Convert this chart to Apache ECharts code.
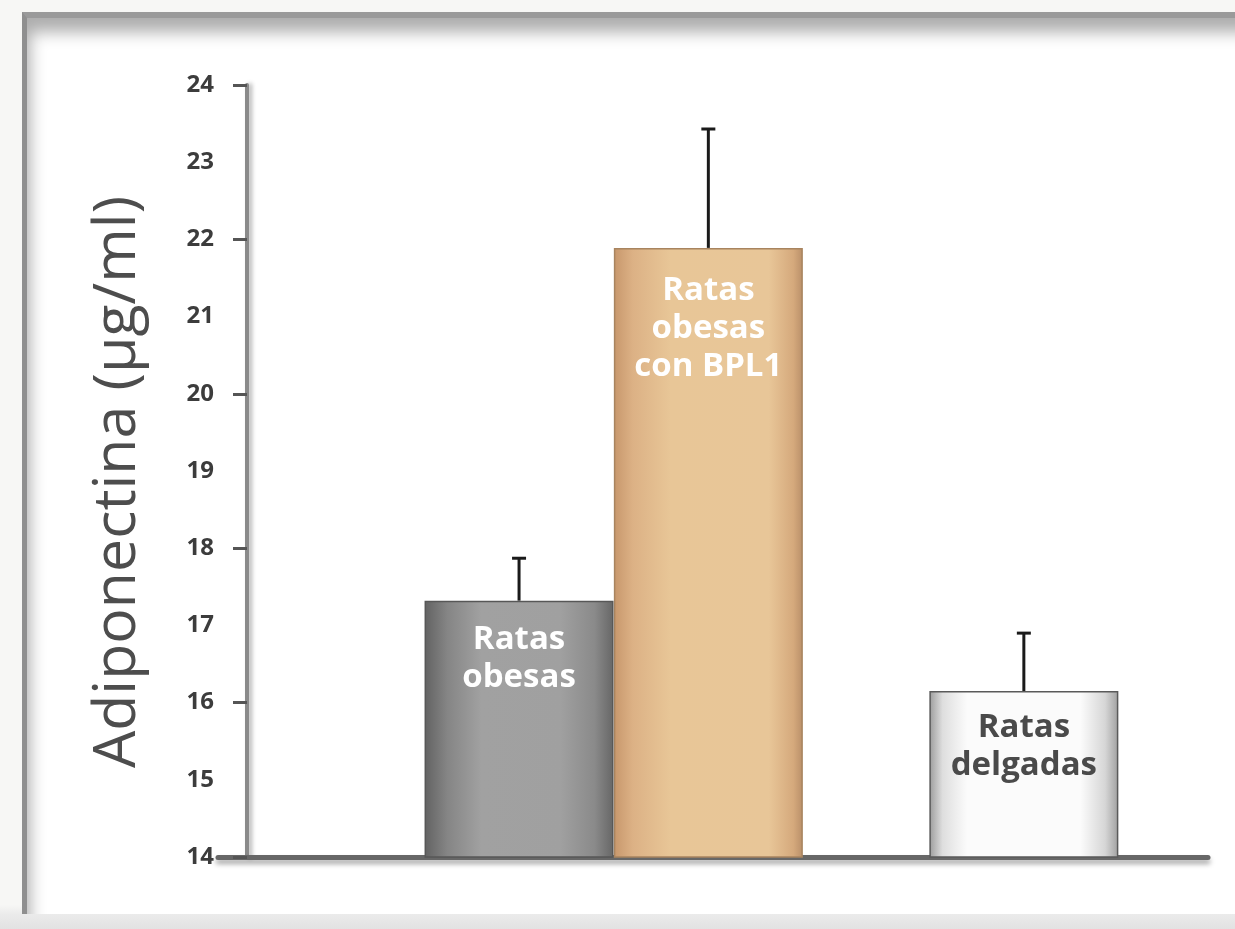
<!DOCTYPE html>
<html>
<head>
<meta charset="utf-8">
<script src="https://cdn.jsdelivr.net/npm/echarts@6/dist/echarts.min.js"></script>
<style>
  html, body { margin: 0; padding: 0; width: 1235px; height: 929px; overflow: hidden;
    background: linear-gradient(to bottom, #f7f7f5 0px, #f7f7f5 905px, #ebebeb 914px, #e2e2e2 929px); }
  #frame { position: absolute; left: 22px; top: 12px; width: 1240px; height: 896px;
    background: #ffffff; border-left: 5px solid #8f8f8f; border-top: 6px solid #9a9a9a;
    box-shadow: inset 9px 20px 16px -6px rgba(0,0,0,0.32); }
  #chart { position: absolute; left: 0; top: 0; width: 1235px; height: 929px; }
</style>
</head>
<body>
<div id="frame"></div>
<div id="chart"></div>
<script>
// Serum adiponectin by group (mean and upper error bar)
const groups = ['Ratas obesas', 'Ratas obesas con BPL1', 'Ratas delgadas'];
const barLabels = ['Ratas\nobesas', 'Ratas\nobesas\ncon BPL1', 'Ratas\ndelgadas'];
const means = [17.32, 21.89, 16.15];
const upper = [17.87, 23.43, 16.90];
const yTitle = 'Adiponectina (µg/ml)';
const yMin = 14, yMax = 24;
// slots along the bar axis: named groups plus empty spacing slots
const axisSlots = ['pad1', 'pad2', 'Ratas obesas', 'gap1', 'gap2', 'Ratas obesas con BPL1',
                   'gap3', 'gap4', 'gap5', 'gap6', 'Ratas delgadas', 'pad3', 'pad4'];

const barFills = [
  { type: 'linear', x: 0, y: 0, x2: 1, y2: 0, colorStops: [
    { offset: 0, color: '#626262' }, { offset: 0.12, color: '#858585' },
    { offset: 0.3, color: '#a1a1a1' }, { offset: 0.72, color: '#a0a0a0' },
    { offset: 0.9, color: '#8a8a8a' }, { offset: 1, color: '#666666' }] },
  { type: 'linear', x: 0, y: 0, x2: 1, y2: 0, colorStops: [
    { offset: 0, color: '#c7976c' }, { offset: 0.1, color: '#dcb185' },
    { offset: 0.3, color: '#e8c697' }, { offset: 0.82, color: '#e8c698' },
    { offset: 0.95, color: '#d5a97c' }, { offset: 1, color: '#b98f69' }] },
  { type: 'linear', x: 0, y: 0, x2: 1, y2: 0, colorStops: [
    { offset: 0, color: '#9c9c9c' }, { offset: 0.07, color: '#dedede' },
    { offset: 0.2, color: '#fbfbfb' }, { offset: 0.8, color: '#fbfbfb' },
    { offset: 0.93, color: '#d6d6d6' }, { offset: 1, color: '#a0a0a0' }] }
];
const borderColors = ['#575757', '#a8845f', '#5a5a5a'];
const labelColors = ['#ffffff', '#ffffff', '#4a4a4a'];
const labelDistances = [20, 24, 18];

const slotIndex = name => axisSlots.indexOf(name);

const barData = axisSlots.map(name => {
  const i = groups.indexOf(name);
  if (i < 0) return '-';
  return {
    value: means[i],
    itemStyle: { color: barFills[i], borderColor: borderColors[i], borderWidth: 1.5 },
    label: {
      show: true, position: 'insideTop', distance: labelDistances[i],
      formatter: barLabels[i], color: labelColors[i],
      fontFamily: 'Open Sans', fontWeight: 'bold', fontSize: 33, lineHeight: 38
    }
  };
});

const errData = groups.map((g, i) => [slotIndex(g), means[i], upper[i]]);

const chart = echarts.init(document.getElementById('chart'), null, { renderer: 'canvas' });

chart.setOption({
  backgroundColor: 'transparent',
  animation: false,
  grid: [
    { left: 218, right: 27, top: 85, bottom: 72 },
    { left: 361.3, right: 53.4, top: 85, bottom: 72 }
  ],
  // rotated y-axis title
  graphic: [{
    type: 'text', x: 118, y: 482, rotation: Math.PI / 2, z: 10, silent: true,
    style: { text: yTitle, fontFamily: 'Open Sans', fontSize: 59, fill: '#4d4d4d',
      align: 'center', verticalAlign: 'middle' }
  }],
  xAxis: [
    { type: 'value', gridIndex: 0, min: 0, max: 1, show: true,
      axisLine: { show: true, onZero: false, lineStyle: { color: '#676767', width: 5,
        shadowColor: 'rgba(0,0,0,0.35)', shadowBlur: 5, shadowOffsetY: 4 } },
      axisTick: { show: false }, axisLabel: { show: false }, splitLine: { show: false } },
    { type: 'category', gridIndex: 1, data: axisSlots, show: false }
  ],
  yAxis: [
    { type: 'value', gridIndex: 0, position: 'left', min: yMin, max: yMax, interval: 1, offset: -29,
      axisLine: { show: true, lineStyle: { color: '#8a8a8a', width: 4,
        shadowColor: 'rgba(0,0,0,0.3)', shadowBlur: 4, shadowOffsetX: 3 } },
      axisTick: { show: false },
      axisLabel: { show: true, margin: 33, fontFamily: 'Open Sans', fontWeight: 'bold',
        fontSize: 24, color: '#3c3c3c' },
      splitLine: { show: false } },
    { type: 'value', gridIndex: 0, position: 'left', min: yMin, max: yMax, interval: 2, offset: -29,
      axisLine: { show: false },
      axisTick: { show: true, inside: false, length: 14,
        lineStyle: { color: '#555555', width: 3 } },
      axisLabel: { show: false }, splitLine: { show: false } },
    { type: 'value', gridIndex: 1, min: yMin, max: yMax, show: false, splitLine: { show: false } }
  ],
  series: [
    { type: 'bar', xAxisIndex: 1, yAxisIndex: 2, barWidth: 189, data: barData, z: 3 },
    { type: 'custom', xAxisIndex: 1, yAxisIndex: 2, data: errData, z: 2,
      renderItem: (params, api) => {
        const base = api.coord([api.value(0), api.value(1)]);
        const top = api.coord([api.value(0), api.value(2)]);
        const cap = 7;
        const style = { stroke: '#1a1a1a', lineWidth: 3 };
        return { type: 'group', children: [
          { type: 'line', shape: { x1: base[0], y1: base[1], x2: top[0], y2: top[1] }, style },
          { type: 'line', shape: { x1: top[0] - cap, y1: top[1], x2: top[0] + cap, y2: top[1] }, style }
        ] };
      } }
  ]
});
</script>
</body>
</html>
